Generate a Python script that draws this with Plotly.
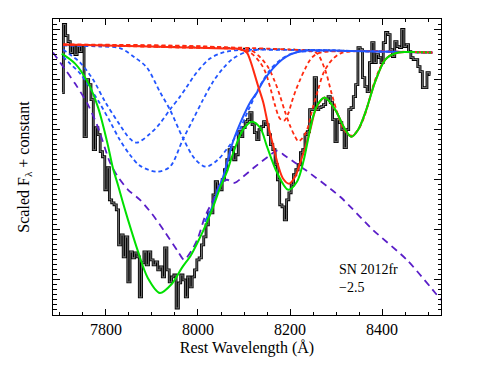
import numpy as np
import plotly.graph_objects as go

# observed spectrum (step histogram), 5 A bins
spec_start = 7705
spec_step = 5
spec_flux = [
    2.22, 2.90, 2.79, 2.73, 2.62, 2.69, 2.60, 2.68, 2.63, 2.69,
    1.78, 2.35, 2.30, 2.15, 1.65, 1.87, 1.80, 1.63, 1.58, 1.25,
    1.47, 1.15, 1.12, 1.10, 1.05, 0.70, 0.80, 0.58, 0.78, 0.33,
    0.63, 0.57, 0.62, 0.58, 0.18, 0.52, 0.63, 0.50, 0.63, 0.55,
    0.50, 0.53, 0.45, 0.48, 0.38, 0.67, 0.45, 0.33, 0.38, 0.40,
    0.07, 0.32, 0.40, 0.35, 0.18, 0.38, 0.28, 0.38, 0.45, 0.55,
    0.57, 0.70, 0.78, 0.90, 1.02, 1.02, 1.20, 1.33, 1.25, 1.25,
    1.35, 1.45, 1.55, 1.65, 1.67, 1.55, 1.60, 1.83, 1.78, 1.87,
    1.93, 1.95, 2.02, 1.90, 1.82, 1.75, 1.85, 1.88, 1.93, 1.90,
    1.80, 1.70, 1.65, 1.50, 1.35, 1.10, 1.08, 0.95, 1.15, 1.22,
    1.30, 1.40, 1.45, 1.50, 1.62, 1.65, 1.80, 1.83, 2.05, 2.05,
    2.37, 2.05, 2.07, 2.08, 2.10, 2.15, 2.18, 2.12, 1.95, 1.73,
    1.95, 1.92, 1.85, 1.67, 1.85, 2.05, 2.07, 2.18, 2.30, 2.67,
    2.65, 2.37, 2.28, 2.23, 2.52, 2.72, 2.52, 2.60, 2.57, 2.52,
    2.72, 2.82, 2.80, 2.65, 2.58, 2.73, 2.68, 2.67, 2.85, 2.68,
    2.70, 2.63, 2.57, 2.55, 2.55, 2.48, 2.43, 2.27, 2.27, 2.42,
    2.40,
]
spec_wave = spec_start + spec_step * np.arange(len(spec_flux))

# continuum
cont_wave = [7707, 8509]
cont_flux = [2.70, 2.62]

# total fit
fit_wave = [7704, 7733, 7761, 7783, 7804, 7815, 7826, 7837, 7848, 7870, 7891, 7917,
            7943, 7965, 7985, 8004, 8017, 8033, 8048, 8063, 8076, 8098, 8117, 8135,
            8150, 8172, 8196, 8215, 8230, 8239, 8250, 8261, 8276, 8298, 8320, 8333,
            8348, 8365, 8385, 8407, 8428, 8450, 8467]
fit_flux = [2.61, 2.51, 2.32, 2.07, 1.70, 1.47, 1.30, 1.12, 0.95, 0.63, 0.37, 0.22,
            0.31, 0.47, 0.60, 0.77, 0.90, 1.08, 1.27, 1.43, 1.61, 1.85, 1.93, 1.87,
            1.68, 1.42, 1.25, 1.33, 1.55, 1.75, 1.98, 2.11, 2.17, 2.05, 1.85, 1.78,
            1.85, 2.04, 2.33, 2.55, 2.61, 2.625, 2.625]
fit_tail_wave = [8467, 8509]
fit_tail_flux = [2.625, 2.62]

# photospheric (PVF) sum
pvf_wave = [7707, 7896, 8076, 8091, 8106, 8113, 8120, 8131, 8142, 8153, 8164, 8175,
            8185, 8198, 8211, 8222, 8233, 8244, 8254, 8265, 8276, 8298, 8320, 8333,
            8348, 8365, 8385, 8407, 8428, 8450, 8509]
pvf_flux = [2.70, 2.68, 2.66, 2.655, 2.62, 2.55, 2.45, 2.28, 2.12, 1.88, 1.68, 1.48,
            1.36, 1.31, 1.38, 1.52, 1.67, 1.85, 2.03, 2.13, 2.17, 2.05, 1.85, 1.78,
            1.85, 2.04, 2.33, 2.55, 2.61, 2.625, 2.62]

# high-velocity (HVF) sum
hvf_wave = [8015, 8033, 8043, 8054, 8065, 8076, 8098, 8113, 8128, 8141, 8157, 8183,
            8200, 8237, 8330, 8509]
hvf_flux = [0.93, 1.10, 1.25, 1.37, 1.55, 1.73, 1.98, 2.12, 2.22, 2.33, 2.43, 2.55,
            2.60, 2.64, 2.635, 2.62]

# individual HVF components
hv1_wave = [7707, 7722, 7744, 7772, 7798, 7830, 7852, 7867, 7896, 7917, 7939, 7961,
            7976, 7989, 8004, 8026, 8048, 8076, 8222, 8509]
hv1_flux = [2.65, 2.60, 2.52, 2.35, 2.13, 1.90, 1.76, 1.72, 1.81, 1.91, 2.05, 2.18,
            2.28, 2.37, 2.46, 2.56, 2.61, 2.64, 2.645, 2.62]
hv2_wave = [7707, 7722, 7744, 7765, 7787, 7809, 7830, 7852, 7874, 7911, 7939, 7967,
            7989, 8011, 8033, 8054, 8076, 8107, 8135, 8222, 8509]
hv2_flux = [2.58, 2.51, 2.41, 2.27, 2.11, 1.93, 1.75, 1.60, 1.49, 1.43, 1.48, 1.75,
            1.95, 2.15, 2.33, 2.46, 2.56, 2.63, 2.65, 2.645, 2.62]
hv3_wave = [7707, 7787, 7830, 7863, 7889, 7917, 7939, 7967, 7993, 8017, 8043, 8065,
            8087, 8113, 8135, 8157, 8183, 8211, 8265, 8509]
hv3_flux = [2.69, 2.68, 2.665, 2.57, 2.47, 2.23, 2.05, 1.77, 1.56, 1.48, 1.55, 1.67,
            1.82, 2.08, 2.29, 2.45, 2.56, 2.62, 2.635, 2.62]

# individual PVF components
pv1_wave = [7707, 8070, 8113, 8135, 8146, 8157, 8167, 8178, 8187, 8196, 8204, 8213,
            8222, 8233, 8244, 8259, 8287, 8509]
pv1_flux = [2.70, 2.665, 2.62, 2.52, 2.43, 2.27, 2.10, 1.96, 1.94, 2.01, 2.13, 2.25,
            2.35, 2.46, 2.55, 2.61, 2.63, 2.62]
pv2_wave = [7707, 7961, 8091, 8120, 8150, 8167, 8178, 8189, 8200, 8211, 8218, 8226,
            8237, 8250, 8261, 8272, 8283, 8294, 8309, 8330, 8509]
pv2_flux = [2.70, 2.67, 2.655, 2.63, 2.49, 2.33, 2.19, 2.03, 1.89, 1.78, 1.735, 1.76,
            1.85, 2.08, 2.25, 2.41, 2.50, 2.56, 2.61, 2.63, 2.62]
pv3_wave = [7707, 8004, 8222, 8244, 8259, 8276, 8291, 8304, 8317, 8333, 8348, 8359,
            8370, 8380, 8391, 8402, 8417, 8433, 8461, 8509]
pv3_flux = [2.70, 2.68, 2.645, 2.635, 2.61, 2.45, 2.20, 2.00, 1.85, 1.79, 1.85, 1.95,
            2.11, 2.28, 2.42, 2.52, 2.59, 2.62, 2.625, 2.62]

# comparison spectrum (dashed purple)
cmp_wave = [7685, 7733, 7761, 7783, 7809, 7826, 7848, 7874, 7900, 7928, 7957, 7970,
            7987, 8000, 8015, 8033, 8048, 8063, 8080, 8098, 8124, 8152, 8172, 8189,
            8211, 8233, 8309, 8380, 8454, 8528]
cmp_flux = [2.62, 2.31, 2.10, 1.87, 1.52, 1.38, 1.25, 1.15, 1.01, 0.83, 0.63, 0.55,
            0.65, 0.77, 0.98, 1.15, 1.31, 1.35, 1.32, 1.38, 1.48, 1.58, 1.64, 1.59,
            1.52, 1.45, 1.18, 0.85, 0.55, 0.15]

serif = "Liberation Serif, Times New Roman, serif"
blue = "#2255ff"
red = "#ff2a10"
green = "#00e000"
purple = "#5a1ec8"

fig = go.Figure()

fig.add_trace(go.Scatter(x=spec_wave, y=spec_flux, mode="lines",
                         line=dict(color="black", width=2.8, shape="hvh")))
fig.add_trace(go.Scatter(x=spec_wave, y=spec_flux, mode="lines",
                         line=dict(color="#6e6e6e", width=1.1, shape="hvh")))
fig.add_trace(go.Scatter(x=cont_wave, y=cont_flux, mode="lines",
                         line=dict(color="black", width=1.5, dash="2px,3px")))

for w, f in [(hv1_wave, hv1_flux), (hv2_wave, hv2_flux), (hv3_wave, hv3_flux)]:
    fig.add_trace(go.Scatter(x=w, y=f, mode="lines",
                             line=dict(color=blue, width=1.8, dash="4px,3px",
                                       shape="spline", smoothing=0.9)))
for w, f in [(pv1_wave, pv1_flux), (pv2_wave, pv2_flux), (pv3_wave, pv3_flux)]:
    fig.add_trace(go.Scatter(x=w, y=f, mode="lines",
                             line=dict(color=red, width=1.8, dash="4px,3px",
                                       shape="spline", smoothing=0.9)))

fig.add_trace(go.Scatter(x=cmp_wave, y=cmp_flux, mode="lines",
                         line=dict(color=purple, width=1.8, dash="7px,5px",
                                   shape="spline", smoothing=0.7)))
fig.add_trace(go.Scatter(x=hvf_wave, y=hvf_flux, mode="lines",
                         line=dict(color=blue, width=2, shape="spline", smoothing=0.9)))
fig.add_trace(go.Scatter(x=pvf_wave, y=pvf_flux, mode="lines",
                         line=dict(color=red, width=2, shape="spline", smoothing=0.9)))
fig.add_trace(go.Scatter(x=fit_wave, y=fit_flux, mode="lines",
                         line=dict(color=green, width=2, shape="spline", smoothing=0.9)))
fig.add_trace(go.Scatter(x=fit_tail_wave, y=fit_tail_flux, mode="lines",
                         line=dict(color=green, width=2, dash="2px,2px")))

fig.add_annotation(x=8302, y=0.55, xref="x", yref="y", xanchor="left", yanchor="top",
                   text="SN 2012fr<br>\u22122.5", showarrow=False, align="left",
                   font=dict(family=serif, size=14, color="black"))

axis_common = dict(showline=True, linecolor="black", linewidth=1, mirror="ticks",
                   ticks="inside", tickcolor="black", tickwidth=1,
                   showgrid=False, zeroline=False, automargin=False)

fig.update_xaxes(range=[7685, 8528], tickmode="linear", tick0=0, dtick=200, ticklen=6,
                 tickfont=dict(family=serif, size=16, color="black"),
                 minor=dict(dtick=50, ticklen=3, ticks="inside", tickcolor="black",
                            tickwidth=1, showgrid=False),
                 title=dict(text="Rest Wavelength (Å)", standoff=4,
                            font=dict(family=serif, size=16, color="black")),
                 **axis_common)
fig.update_yaxes(range=[0, 2.955], tickmode="linear", tick0=0.35, dtick=0.5, ticklen=7,
                 showticklabels=False,
                 minor=dict(dtick=0.05, ticklen=3.5, ticks="inside", tickcolor="black",
                            tickwidth=1, showgrid=False),
                 title=dict(text="Scaled F<sub>λ</sub> + constant", standoff=18,
                            font=dict(family=serif, size=16, color="black")),
                 **axis_common)

# page body adds an 8px offset, so the figure is trimmed by that much
fig.update_layout(width=477, height=366, margin=dict(l=45, r=44, t=11, b=59),
                  plot_bgcolor="white", paper_bgcolor="white", showlegend=False)

fig.write_html("out.html")
